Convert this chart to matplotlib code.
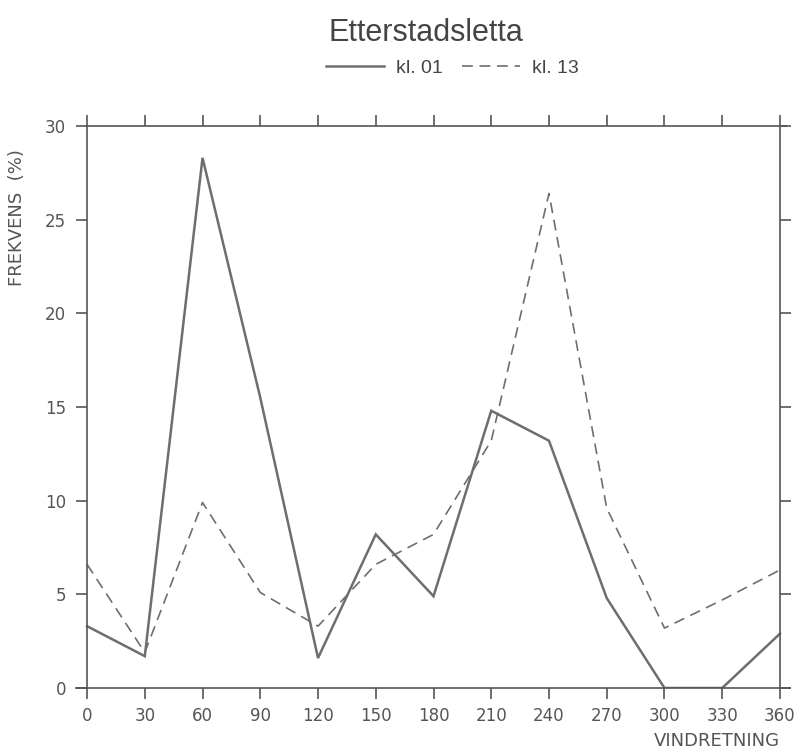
import matplotlib
matplotlib.use('Agg')
import matplotlib.pyplot as plt


retning = [0, 30, 60, 90, 120, 150, 180, 210, 240, 270, 300, 330, 360]
kl01    = [3.3, 1.7, 28.3, 15.5, 1.6, 8.2, 4.9, 14.8, 13.2, 4.8, 0.0, 0.0, 2.9]
kl13    = [6.6, 1.9, 9.9, 5.1, 3.3, 6.6, 8.2, 13.2, 26.4, 9.6, 3.2, 4.7, 6.3]

x_ticks = retning
y_ticks = [0, 5, 10, 15, 20, 25, 30]

INK  = '#555555'
LINE = '#6e6e6e'

plt.rcParams['font.family'] = 'DejaVu Sans'

fig = plt.figure(figsize=(8.01, 7.51), dpi=100)
ax  = fig.add_axes([75.5/801, 1 - 688/751, (791.5 - 75.5)/801, (688 - 126)/751])

ax.plot(retning, kl01, color=LINE, lw=1.8, solid_joinstyle='miter', label='kl. 01')
ax.plot(retning, kl13, color=LINE, lw=1.2, dashes=(6.5, 4), label='kl. 13')

ax.set_xlim(-6, 366)
ax.set_ylim(0, 30)

ax.spines['left'].set_position(('data', 0))
ax.spines['right'].set_position(('data', 360))
ax.spines['bottom'].set_bounds(-6, 365)
ax.spines['top'].set_bounds(0, 363)
for s in ax.spines.values():
    s.set_color(INK)
    s.set_linewidth(1.2)

ax.set_xticks(x_ticks)
ax.set_yticks(y_ticks)
ax.set_xticklabels([str(v) for v in x_ticks])
ax.set_yticklabels([str(v) for v in y_ticks])
ax.tick_params(axis='both', which='both', direction='out', length=8, width=1.2,
               color=INK, labelcolor=INK, labelsize=12)
ax.tick_params(axis='x', top=True, pad=6)
ax.tick_params(axis='y', right=True, pad=7)

fig.text(17/801, 1 - 218/751, 'FREKVENS  (%)', rotation=90, ha='center', va='center',
         fontsize=13, color=INK)
fig.text(780/801, 1 - 741/751, 'VINDRETNING', ha='right', va='center',
         fontsize=13, color=INK)

fig.text(426/801, 1 - 33/751, 'Etterstadsletta', ha='center', va='center',
         fontsize=22, color='#444444', family='Liberation Sans')
fig.legend(loc='center', bbox_to_anchor=(452/801, 1 - 68/751), ncol=2, frameon=False,
           handlelength=3.0, handletextpad=0.6, columnspacing=1.0,
           prop={'family': 'Liberation Sans', 'size': 14}, labelcolor='#444444')

plt.savefig('out.png', dpi=100)
